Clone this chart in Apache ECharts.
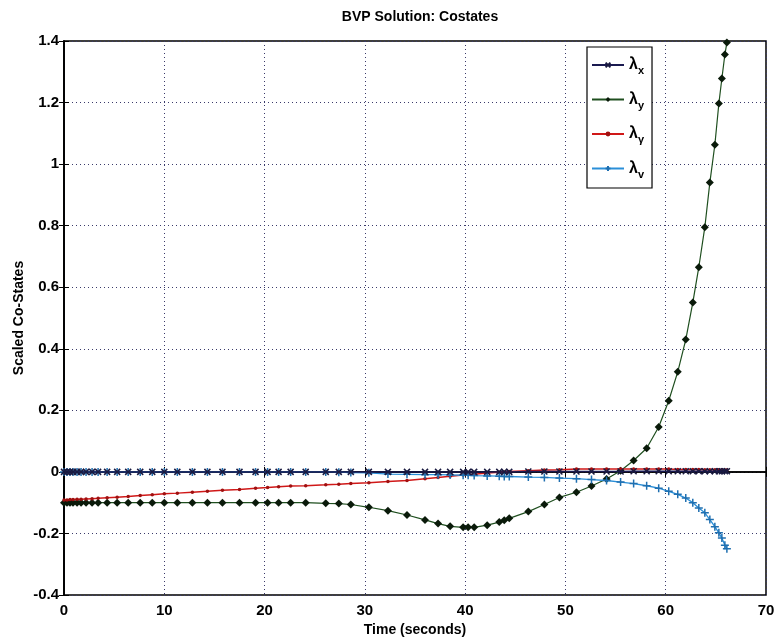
<!DOCTYPE html>
<html><head><meta charset="utf-8">
<script src="https://cdn.jsdelivr.net/npm/echarts@6/dist/echarts.min.js"></script>
<style>html,body{margin:0;padding:0;background:#fff}#c{width:776px;height:642px}</style>
</head><body><div id="c"></div>
<script>
const T = [0, 0.3, 0.6, 0.9, 1.3, 1.7, 2.2, 2.8, 3.4, 4.3, 5.3, 6.4, 7.6, 8.8, 10, 11.3, 12.8, 14.3, 15.8, 17.5, 19.1, 20.3, 21.4, 22.6, 24.1, 26.1, 27.4, 28.6, 30.4, 32.3, 34.2, 36.0, 37.3, 38.5, 39.8, 40.3, 40.9, 42.2, 43.4, 43.9, 44.4, 46.3, 47.9, 49.4, 51.1, 52.6, 54.1, 55.5, 56.8, 58.1, 59.3, 60.3, 61.2, 62.0, 62.7, 63.3, 63.9, 64.4, 64.9, 65.3, 65.6, 65.9, 66.1];
const lamX = [0,0,0,0,0,0,0,0,0,0,0,0,0,0,0,0,0,0,0,0,0,0,0,0,0,0,0,0,0,0,0,0,0,0,0,0,0,0,0,0,0,0.001,0.001,0.001,0.001,0.001,0.001,0.001,0.002,0.002,0.002,0.002,0.002,0.002,0.002,0.002,0.002,0.002,0.002,0.002,0.002,0.002,0.002];
const lamY = [-0.1,-0.1,-0.1,-0.1,-0.1,-0.1,-0.1,-0.1,-0.1,-0.1,-0.1,-0.1,-0.1,-0.1,-0.1,-0.1,-0.1,-0.1,-0.1,-0.1,-0.1,-0.1,-0.1,-0.1,-0.1,-0.102,-0.103,-0.106,-0.115,-0.126,-0.14,-0.156,-0.168,-0.177,-0.18,-0.18,-0.18,-0.173,-0.163,-0.157,-0.151,-0.129,-0.106,-0.083,-0.066,-0.046,-0.023,0.004,0.037,0.077,0.146,0.231,0.325,0.43,0.55,0.665,0.795,0.94,1.063,1.197,1.278,1.356,1.395];
const lamG = [-0.091,-0.091,-0.09,-0.09,-0.089,-0.089,-0.088,-0.087,-0.086,-0.084,-0.082,-0.08,-0.077,-0.074,-0.071,-0.069,-0.066,-0.063,-0.06,-0.057,-0.053,-0.051,-0.048,-0.046,-0.045,-0.042,-0.04,-0.038,-0.035,-0.031,-0.028,-0.022,-0.018,-0.014,-0.01,-0.009,-0.008,-0.004,-0.001,0,0.001,0.004,0.006,0.007,0.009,0.009,0.009,0.009,0.009,0.009,0.009,0.009,0.008,0.008,0.008,0.008,0.007,0.007,0.007,0.007,0.006,0.006,0.006];
const lamV = [0,0,0,0,0,0,0,0,0,0,0,0,0,0,0,0,0,0,0,0,0,0,0,0,0,0,-0.001,-0.002,-0.003,-0.007,-0.008,-0.009,-0.009,-0.01,-0.011,-0.011,-0.012,-0.013,-0.014,-0.015,-0.015,-0.017,-0.018,-0.02,-0.022,-0.025,-0.028,-0.033,-0.038,-0.045,-0.053,-0.063,-0.073,-0.085,-0.1,-0.117,-0.133,-0.155,-0.178,-0.198,-0.215,-0.238,-0.25];
const names = ['λx','λy','λγ','λv'];
const xTicks = {min:0, max:70, interval:10};
const yTicks = {min:-0.4, max:1.4, interval:0.2};

const zip = (ys) => T.map((t,i)=>[t, ys[i]]);
const crossPath = 'path://M0,0L10,10M10,0L0,10';
const plusPath = 'path://M5,0L5,10M0,5L10,5';
const font = 'Liberation Sans, Arial, sans-serif';
const gridLine = {show:true, lineStyle:{type:[1,3], color:'#3a3a6a', width:1}};
const tickIn = {show:true, inside:true, length:5, lineStyle:{color:'#000', width:1}};

const chart = echarts.init(document.getElementById('c'), null, {renderer:'canvas'});
chart.setOption({
  animation:false,
  backgroundColor:'#fff',
  title:{text:'BVP Solution: Costates', left:415, textAlign:'center', top:5,
    textStyle:{fontFamily:font, fontSize:14, fontWeight:'bold', color:'#000'}},
  grid:{left:64, right:10, top:41, bottom:47, outerBoundsMode:'none', containLabel:false,
    show:true, borderColor:'#000', borderWidth:1.5, backgroundColor:'#fff'},
  legend:{
    orient:'vertical', left:587, top:47, itemGap:15, itemWidth:32, itemHeight:6,
    padding:[10,8,8,4], borderColor:'#000', borderWidth:1.2, backgroundColor:'#fff',
    data:names,
    formatter:(n)=>'{l|λ}{s|'+n.slice(1)+'}',
    textStyle:{rich:{
      l:{fontFamily:font, fontSize:16, fontWeight:'bold', color:'#000'},
      s:{fontFamily:font, fontSize:11, fontWeight:'bold', color:'#000', padding:[12,0,0,0]}
    }}
  },
  xAxis:[{
    type:'value', min:xTicks.min, max:xTicks.max, interval:xTicks.interval,
    name:'Time (seconds)', nameLocation:'middle', nameGap:28,
    nameTextStyle:{fontFamily:font, fontSize:14, fontWeight:'bold', color:'#000'},
    axisLine:{show:true, lineStyle:{color:'#000', width:1.5}},
    axisTick:tickIn, splitLine:gridLine,
    axisLabel:{fontFamily:font, fontSize:15, fontWeight:'bold', color:'#000', margin:8}
  },{
    type:'value', position:'top', min:xTicks.min, max:xTicks.max, interval:xTicks.interval,
    axisLine:{show:true, lineStyle:{color:'#000', width:1.5}}, axisTick:tickIn,
    axisLabel:{show:false}, splitLine:{show:false}
  }],
  yAxis:[{
    type:'value', min:yTicks.min, max:yTicks.max, interval:yTicks.interval,
    name:'Scaled Co-States', nameLocation:'middle', nameGap:38, nameMoveOverlap:false,
    nameTextStyle:{fontFamily:font, fontSize:14, fontWeight:'bold', color:'#000'},
    axisLine:{show:true, lineStyle:{color:'#000', width:1.5}},
    axisTick:tickIn, splitLine:gridLine,
    axisLabel:{fontFamily:font, fontSize:15, fontWeight:'bold', color:'#000', margin:5}
  },{
    type:'value', position:'right', min:yTicks.min, max:yTicks.max, interval:yTicks.interval,
    axisLine:{show:true, lineStyle:{color:'#000', width:1.5}}, axisTick:tickIn,
    axisLabel:{show:false}, splitLine:{show:false}
  }],
  series:[
    {name:names[1], type:'line', data:zip(lamY), symbol:'diamond', symbolSize:8,
      lineStyle:{color:'#1f4f1f', width:1.2}, itemStyle:{color:'#0a1a0a'}, z:3},
    {name:names[2], type:'line', data:zip(lamG), symbol:'circle', symbolSize:3.5,
      lineStyle:{color:'#d01818', width:1.5}, itemStyle:{color:'#a01010'}, z:4},
    {name:names[3], type:'line', data:zip(lamV), symbol:plusPath, symbolSize:8,
      lineStyle:{color:'#2a8fd8', width:1.3}, itemStyle:{color:'transparent', borderColor:'#1f6fb0', borderWidth:1.5}, z:5},
    {name:names[0], type:'line', data:zip(lamX), symbol:crossPath, symbolSize:6,
      lineStyle:{color:'#1a1a50', width:1.5}, itemStyle:{color:'transparent', borderColor:'#1a1a40', borderWidth:1.5}, z:6}
  ]
});
</script></body></html>
